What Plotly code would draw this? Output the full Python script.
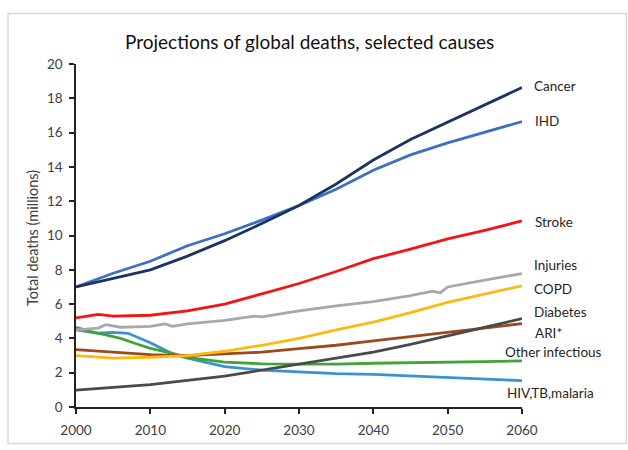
import plotly.graph_objects as go

# ---------------- data (millions of deaths) ----------------
years_cancer = [2000, 2005, 2010, 2015, 2020, 2025, 2030, 2035, 2040, 2045, 2050, 2055, 2060]
cancer = [7.0, 7.5, 8.0, 8.8, 9.7, 10.7, 11.75, 13.0, 14.4, 15.6, 16.6, 17.6, 18.63]

years_ihd = [2000, 2005, 2010, 2015, 2020, 2025, 2030, 2035, 2040, 2045, 2050, 2055, 2060]
ihd = [7.0, 7.8, 8.5, 9.4, 10.1, 10.9, 11.75, 12.7, 13.8, 14.7, 15.4, 16.0, 16.64]

years_stroke = [2000, 2003, 2005, 2010, 2015, 2020, 2025, 2030, 2035, 2040, 2045, 2050, 2055, 2060]
stroke = [5.2, 5.4, 5.3, 5.35, 5.6, 6.0, 6.6, 7.2, 7.9, 8.65, 9.2, 9.8, 10.3, 10.85]

years_injuries = [2000, 2003, 2004, 2006, 2010, 2012, 2013, 2015, 2020, 2024, 2025, 2030, 2035,
                  2040, 2045, 2048, 2049, 2050, 2055, 2060]
injuries = [4.5, 4.6, 4.8, 4.65, 4.7, 4.85, 4.7, 4.85, 5.05, 5.3, 5.25, 5.6, 5.9,
            6.15, 6.5, 6.75, 6.65, 7.0, 7.4, 7.78]

years_copd = [2000, 2005, 2010, 2015, 2020, 2025, 2030, 2035, 2040, 2045, 2050, 2055, 2060]
copd = [3.0, 2.85, 2.9, 3.0, 3.25, 3.6, 4.0, 4.5, 4.95, 5.5, 6.1, 6.6, 7.07]

years_diabetes = [2000, 2010, 2020, 2025, 2030, 2035, 2040, 2045, 2050, 2055, 2060]
diabetes = [0.98, 1.3, 1.8, 2.15, 2.5, 2.85, 3.2, 3.65, 4.15, 4.65, 5.15]

years_ari = [2000, 2005, 2010, 2015, 2020, 2025, 2030, 2035, 2040, 2045, 2050, 2055, 2060]
ari = [3.35, 3.2, 3.05, 3.0, 3.1, 3.2, 3.4, 3.6, 3.85, 4.1, 4.35, 4.6, 4.86]

years_other = [2000, 2002, 2004, 2006, 2008, 2010, 2013, 2015, 2020, 2025, 2030, 2035, 2040,
               2045, 2050, 2055, 2060]
other_inf = [4.65, 4.4, 4.2, 4.0, 3.7, 3.42, 3.13, 2.9, 2.62, 2.52, 2.5, 2.5, 2.55,
             2.57, 2.6, 2.65, 2.69]

years_hiv = [2000, 2003, 2005, 2007, 2010, 2013, 2015, 2020, 2025, 2030, 2035, 2040, 2045,
             2050, 2055, 2060]
hiv = [4.5, 4.3, 4.35, 4.3, 3.75, 3.1, 2.85, 2.35, 2.15, 2.05, 1.95, 1.9, 1.8,
       1.7, 1.6, 1.54]

series = [
    ("Cancer", years_cancer, cancer, "#1c3461"),
    ("IHD", years_ihd, ihd, "#3b70c2"),
    ("Stroke", years_stroke, stroke, "#f51414"),
    ("Injuries", years_injuries, injuries, "#a8a8a8"),
    ("COPD", years_copd, copd, "#fdb913"),
    ("Diabetes", years_diabetes, diabetes, "#4a4a4a"),
    ("ARI*", years_ari, ari, "#9a4a1c"),
    ("Other infectious", years_other, other_inf, "#43a33b"),
    ("HIV,TB,malaria", years_hiv, hiv, "#3a92d4"),
]

# label anchors (year-like x, value-like y)
label_x = [2061.3, 2061.5, 2061.5, 2061.4, 2061.3, 2061.3, 2061.5, 2057.4, 2057.7]
label_y = [18.7, 16.65, 10.8, 8.3, 6.9, 5.55, 4.3, 3.2, 0.8]

tick_years = [2000, 2010, 2020, 2030, 2040, 2050, 2060]
tick_vals_y = [0, 2, 4, 6, 8, 10, 12, 14, 16, 18, 20]
X0, X1 = 2000, 2060

FONT = "Lato, 'Open Sans', sans-serif"

fig = go.Figure()
for name, xs, ys, col in series[::-1]:
    fig.add_trace(go.Scatter(x=xs, y=ys, mode="lines", name=name,
                             line=dict(color=col, width=2.8), showlegend=False))

for (name, xs, ys, col), lx, ly in zip(series, label_x, label_y):
    fig.add_annotation(x=(lx - X0) / (X1 - X0), y=ly, text=name, showarrow=False,
                       xanchor="left", yanchor="middle", xref="paper", yref="y",
                       font=dict(family=FONT, size=13.5, color="#262626"))

L, R, T, B = 76, 105.5, 64, 39
W, H = 628, 450
pw, ph = W - L - R, H - T - B

def px_to_paper_x(px):
    return (px - L) / pw

def px_to_paper_y(py):
    return (H - B - py) / ph

# outer light border
fig.add_shape(type="rect", xref="paper", yref="paper",
              x0=px_to_paper_x(8), x1=px_to_paper_x(627),
              y0=px_to_paper_y(448), y1=px_to_paper_y(13),
              line=dict(color="#d9d9d9", width=1.5), fillcolor="rgba(0,0,0,0)", layer="below")

# title
fig.add_annotation(xref="paper", yref="paper", x=px_to_paper_x(310), y=px_to_paper_y(41),
                   text="Projections of global deaths, selected causes", showarrow=False,
                   xanchor="center", yanchor="middle",
                   font=dict(family=FONT, size=19, color="#111111"))

# y-axis title
fig.add_annotation(xref="paper", yref="paper", x=px_to_paper_x(33), y=px_to_paper_y(240),
                   text="Total deaths (millions)", showarrow=False, textangle=-90,
                   xanchor="center", yanchor="middle",
                   font=dict(family=FONT, size=14.5, color="#404040"))

fig.update_layout(
    width=W, height=H,
    margin=dict(l=L, r=R, t=T, b=B),
    paper_bgcolor="white", plot_bgcolor="white",
    font=dict(family=FONT, color="#404040"),
)
fig.update_xaxes(range=[X0, X1], tickvals=tick_years, ticktext=[str(t) for t in tick_years],
                 showgrid=False, zeroline=False, showline=True, linecolor="#222", linewidth=1.5,
                 ticks="outside", ticklen=5, tickcolor="#222", tickwidth=1.5,
                 tickfont=dict(family=FONT, size=13.5, color="#404040"), ticklabelstandoff=5)
fig.update_yaxes(range=[0, 20], tickvals=tick_vals_y,
                 showgrid=False, zeroline=False, showline=True, linecolor="#222", linewidth=1.5,
                 ticks="outside", ticklen=5, tickcolor="#222", tickwidth=1.5,
                 tickfont=dict(family=FONT, size=13.5, color="#404040"), ticklabelstandoff=4)

fig.write_html("out.html")
